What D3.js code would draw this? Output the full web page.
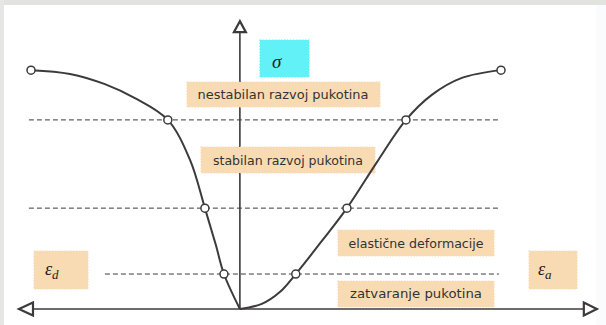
<!DOCTYPE html>
<html>
<head>
<meta charset="utf-8">
<script src="https://cdn.jsdelivr.net/npm/d3@7"></script>
<style>
  html, body { margin: 0; padding: 0; background: #ffffff; }
  svg { display: block; }
</style>
</head>
<body>
<script>
// Stress–strain curve of rock under compression: ε_d (lateral) on the left, ε_a (axial) on the right.
const lateralStrain = [-80, -65.1, -51.7, -40.2, -27.6, -19.1, -13.4, -9.2, -6.1, 0];
const lateralStress = [88.8, 87.4, 83.6, 78.4, 70.3, 55.4, 37.5, 23.8, 13, 0];
const axialStrain = [0, 8.4, 15.3, 21.4, 31.4, 41, 52.5, 63.6, 73.5, 85, 100];
const axialStress = [0, 1.9, 6.3, 13, 25.3, 37.5, 54.6, 70.3, 79.6, 85.9, 88.8];

// Stress thresholds (dashed lines) and the marked points on each branch
const thresholdLevels = [13, 37.5, 70.3];
const lateralMarks = [-6.1, -13.4, -27.6, -80];
const axialMarks = [21.4, 41, 63.6, 100];
const markStress = [13, 37.5, 70.3, 88.8];

const zoneLabels = ["nestabilan razvoj pukotina", "stabilan razvoj pukotina", "elastične deformacije", "zatvaranje pukotina"];

const W = 606, H = 325;
const svg = d3.select("body").append("svg").attr("width", W).attr("height", H);

// Paper edge
svg.append("rect").attr("width", W).attr("height", H).attr("fill", "#ffffff");
svg.append("rect").attr("x", 0).attr("y", 0).attr("width", W).attr("height", 5).attr("fill", "#e2e2df");
svg.append("rect").attr("x", 0).attr("y", 0).attr("width", 4).attr("height", H).attr("fill", "#e6e6e4");
svg.append("rect").attr("x", 596).attr("y", 5).attr("width", 10).attr("height", H).attr("fill", "#f9fbfc");

const x = d3.scaleLinear().domain([-80, 100]).range([31, 501]);
const y = d3.scaleLinear().domain([0, 100]).range([309, 40]);

const ink = "#3c3a3a";

// Axes with open arrow heads
const axisG = svg.append("g").attr("stroke", ink).attr("fill", "none");
axisG.append("line").attr("x1", x(-84)).attr("x2", x(137)).attr("y1", y(0)).attr("y2", y(0)).attr("stroke-width", 1.6);
axisG.append("line").attr("x1", x(0)).attr("x2", x(0)).attr("y1", y(0)).attr("y2", y(103)).attr("stroke-width", 1.6);

const xL = x(-84.6), xR = x(136.7), y0 = y(0), yT = y(107);
axisG.append("path").attr("stroke-width", 2.2).attr("fill", "#fff")
  .attr("d", `M${xL},${y0} L${xL + 14},${y0 - 6.5} L${xL + 14},${y0 + 6.5} Z`);
axisG.append("path").attr("stroke-width", 2.2).attr("fill", "#fff")
  .attr("d", `M${xR},${y0} L${xR - 13},${y0 - 6.5} L${xR - 13},${y0 + 6.5} Z`);
axisG.append("path").attr("stroke-width", 2.2).attr("fill", "#fff")
  .attr("d", `M${x(0)},${yT} L${x(0) - 6},${yT + 11} L${x(0) + 6},${yT + 11} Z`);

// Dashed threshold lines
const dashStarts = [-51.7, -80.8, -80.8];
svg.append("g").selectAll("line").data(thresholdLevels).join("line")
  .attr("x1", (d, i) => x(dashStarts[i])).attr("x2", x(99.2))
  .attr("y1", d => y(d)).attr("y2", d => y(d))
  .attr("stroke", "#3a3a3a").attr("stroke-width", 1).attr("stroke-dasharray", "5,3");

// Label boxes (drawn over the vertical axis)
function box(x0, y0, w, h, fill) {
  svg.append("rect").attr("x", x0).attr("y", y0).attr("width", w).attr("height", h)
    .attr("fill", fill).attr("stroke", fill).attr("stroke-width", 1.2).attr("stroke-dasharray", "1.5,1.5");
}
const peach = "#f8dbb3";
box(260, 40, 49, 37, "#62f1f6");
box(187, 82, 193, 25, peach);
box(201, 147, 174, 26, peach);
box(338, 230, 156, 26, peach);
box(338, 281, 156, 26, peach);
box(34, 251, 54, 38, peach);
box(529, 251, 48, 38, peach);

const labelFont = "Tahoma, 'DejaVu Sans', Verdana, sans-serif";
const labelPos = [[283, 99], [288, 165], [416, 248], [416, 298]];
const labelWidth = [171, 150, 135, 132];
svg.append("g").selectAll("text").data(zoneLabels).join("text")
  .attr("x", (d, i) => labelPos[i][0]).attr("y", (d, i) => labelPos[i][1])
  .attr("text-anchor", "middle").attr("font-family", labelFont).attr("font-size", 12.5)
  .attr("textLength", (d, i) => labelWidth[i]).attr("lengthAdjust", "spacingAndGlyphs")
  .attr("fill", "#333").text(d => d);

// Greek symbols
const greek = "'Liberation Serif', 'DejaVu Serif', serif";
svg.append("text").attr("x", 272).attr("y", 68).attr("font-family", greek).attr("font-style", "italic")
  .attr("font-size", 19).attr("fill", "#222").text("σ");
const ed = svg.append("text").attr("x", 45).attr("y", 275).attr("font-family", greek).attr("font-style", "italic")
  .attr("font-size", 18).attr("fill", "#222");
ed.append("tspan").text("ε");
ed.append("tspan").attr("font-size", 13).attr("dy", 4).text("d");
const ea = svg.append("text").attr("x", 538).attr("y", 275).attr("font-family", greek).attr("font-style", "italic")
  .attr("font-size", 18).attr("fill", "#222");
ea.append("tspan").text("ε");
ea.append("tspan").attr("font-size", 13).attr("dy", 4).text("a");

// Curve branches
const line = d3.line().x(d => x(d[0])).y(d => y(d[1])).curve(d3.curveCatmullRom.alpha(0.5));
const lateral = lateralStrain.map((e, i) => [e, lateralStress[i]]);
const axial = axialStrain.map((e, i) => [e, axialStress[i]]);
svg.append("path").attr("d", line(lateral)).attr("fill", "none").attr("stroke", ink).attr("stroke-width", 2);
svg.append("path").attr("d", line(axial)).attr("fill", "none").attr("stroke", ink).attr("stroke-width", 2);

// Marked points
const marks = lateralMarks.map((e, i) => [e, markStress[i]]).concat(axialMarks.map((e, i) => [e, markStress[i]]));
svg.append("g").selectAll("circle").data(marks).join("circle")
  .attr("cx", d => x(d[0])).attr("cy", d => y(d[1])).attr("r", 4)
  .attr("fill", "#fff").attr("stroke", ink).attr("stroke-width", 1.5);
</script>
</body>
</html>
